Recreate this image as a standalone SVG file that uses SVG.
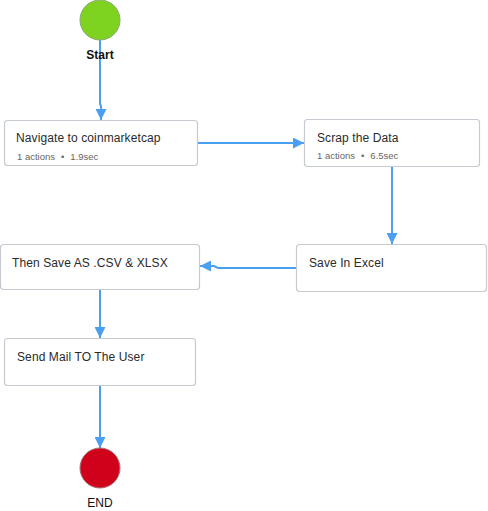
<svg xmlns="http://www.w3.org/2000/svg" width="488" height="511" viewBox="0 0 488 511">
<style>
.box{fill:#fff;stroke:#c6cbd1;stroke-width:1.2}
.t{font-family:"Liberation Sans",Arial,sans-serif;font-size:12px;fill:#2a2a2a;letter-spacing:0.1px}
.s{font-family:"Liberation Sans",Arial,sans-serif;font-size:9.5px;fill:#666}
.lbl{font-family:"Liberation Sans",Arial,sans-serif;font-size:12px;fill:#111;text-anchor:middle}
.e{fill:none;stroke:#4a9ff0;stroke-width:2}
</style>
<defs>
<marker id="arr" viewBox="0 0 11 11" refX="11" refY="5.5" markerWidth="11" markerHeight="11" markerUnits="userSpaceOnUse" orient="auto">
<path d="M0,0 L11,5.5 L0,11 Z" fill="#4a9ff0"/>
</marker>
</defs>
<g id="edges">
<path class="e" d="M100,40 V104 L101,106 V120" marker-end="url(#arr)"/>
<path class="e" d="M198,143 H304" marker-end="url(#arr)"/>
<path class="e" d="M392,167 V244" marker-end="url(#arr)"/>
<path class="e" d="M296,268 H218 L214,266 H200" marker-end="url(#arr)"/>
<path class="e" d="M100,290 V338" marker-end="url(#arr)"/>
<path class="e" d="M100,386 V448" marker-end="url(#arr)"/>
</g>
<g id="start">
<circle cx="100" cy="20" r="20" fill="#7ed321" stroke="#8aa878" stroke-width="1"/>
<text class="lbl" x="100" y="59" font-weight="bold">Start</text>
</g>
<g id="navigate">
<rect class="box" x="4.5" y="120.5" width="193" height="45" rx="3"/>
<text class="t" x="16" y="142">Navigate to coinmarketcap</text>
<text class="s" x="17" y="160">1 actions<tspan dx="6">•</tspan><tspan dx="6">1.9sec</tspan></text>
</g>
<g id="scrap">
<rect class="box" x="304.5" y="119.5" width="175" height="47" rx="3"/>
<text class="t" x="317" y="142">Scrap the Data</text>
<text class="s" x="317" y="159">1 actions<tspan dx="6">•</tspan><tspan dx="6">6.5sec</tspan></text>
</g>
<g id="excel">
<rect class="box" x="296.5" y="244.5" width="190" height="47" rx="3"/>
<text class="t" x="309" y="267">Save In Excel</text>
</g>
<g id="saveas">
<rect class="box" x="0.5" y="244.5" width="199" height="45" rx="3"/>
<text class="t" x="12" y="267">Then Save AS .CSV &amp; XLSX</text>
</g>
<g id="mail">
<rect class="box" x="4.5" y="338.5" width="191" height="47" rx="3"/>
<text class="t" x="17" y="361">Send Mail TO The User</text>
</g>
<g id="end">
<circle cx="100" cy="468" r="20" fill="#d0021b" stroke="#b07078" stroke-width="1"/>
<text class="lbl" x="100" y="507">END</text>
</g>
</svg>
